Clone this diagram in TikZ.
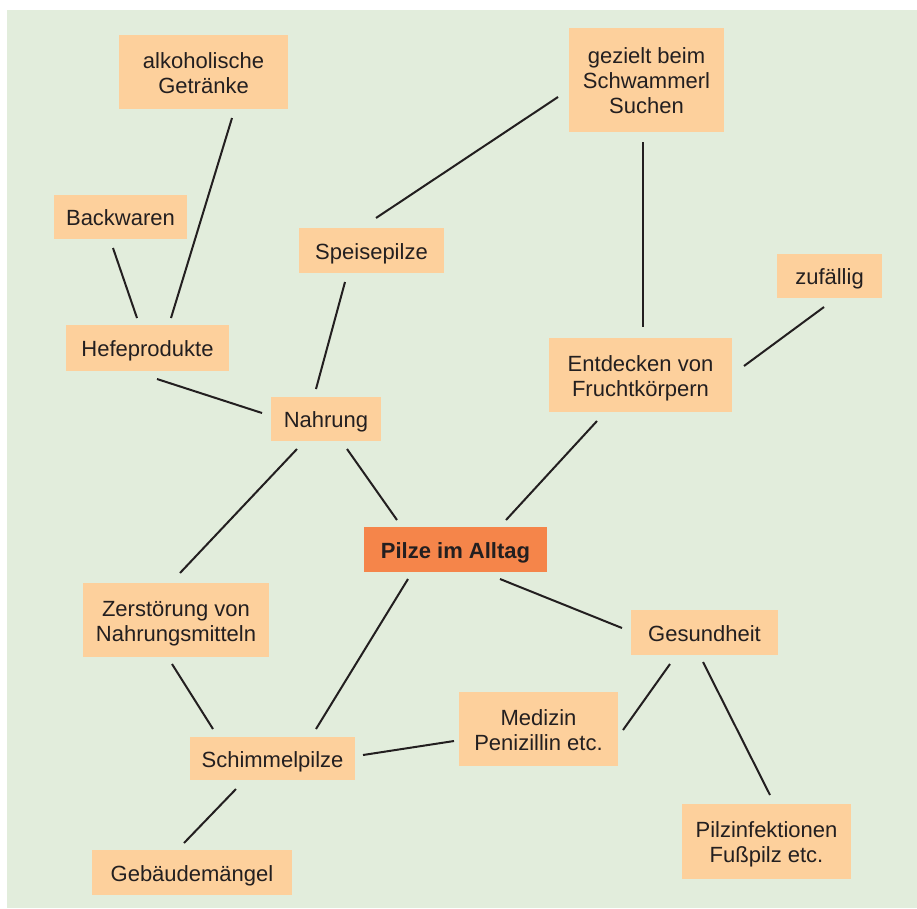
\documentclass[tikz,border=0pt]{standalone}
\usepackage{fontspec}
\setmainfont{Liberation Sans}
\definecolor{bggreen}{HTML}{E2EDDC}
\definecolor{peach}{HTML}{FDD09C}
\definecolor{orangec}{HTML}{F5854A}
\definecolor{txt}{HTML}{231F20}
\newcommand{\topstrut}{\rule{0pt}{22pt}}
\newcommand{\botstrut}{\rule[-5pt]{0pt}{5pt}}
\tikzset{
  mbox/.style={fill=peach, text=txt, align=center, inner sep=0pt, font=\fontsize{22}{25}\selectfont},
  box/.style={mbox,
    execute at begin node={\rule[-5pt]{0pt}{27pt}}},
  mainbox/.style={box, fill=orangec, font=\fontsize{22}{25}\selectfont\bfseries},
  conn/.style={draw=txt, line width=2pt}
}
\begin{document}
\begin{tikzpicture}[x=1pt,y=-1pt]
\useasboundingbox (0,0) rectangle (917,908);
\fill[white] (0,0) rectangle (917,908);
\fill[bggreen] (7,10) rectangle (917,908);

\node[mbox, minimum width=169, minimum height=74] (alk) at (203.5,72) {\topstrut alkoholische\\Getränke\botstrut};
\node[box, minimum width=133, minimum height=44] (back) at (120.5,217) {Backwaren};
\node[box, minimum width=163, minimum height=46] (hefe) at (147.5,348) {Hefeprodukte};
\node[box, minimum width=145, minimum height=45] (speise) at (371.5,250.5) {Speisepilze};
\node[mbox, minimum width=155, minimum height=104] (gezielt) at (646.5,80) {\topstrut gezielt beim\\Schwammerl\\Suchen\botstrut};
\node[box, minimum width=105, minimum height=44] (zuf) at (829.5,276) {zufällig};
\node[mbox, minimum width=183, minimum height=74] (entd) at (640.5,375) {\topstrut Entdecken von\\Fruchtkörpern\botstrut};
\node[box, minimum width=110, minimum height=44] (nahr) at (326,419) {Nahrung};
\node[mainbox, minimum width=183, minimum height=45] (pilze) at (455.5,549.5) {Pilze im Alltag};
\node[mbox, minimum width=186, minimum height=74] (zerst) at (176,620) {\topstrut Zerstörung von\\Nahrungsmitteln\botstrut};
\node[box, minimum width=147, minimum height=45] (ges) at (704.5,632.5) {Gesundheit};
\node[mbox, minimum width=159, minimum height=74] (med) at (538.5,729) {\topstrut Medizin\\Penizillin etc.\botstrut};
\node[box, minimum width=165, minimum height=43] (schim) at (272.5,758.5) {Schimmelpilze};
\node[box, minimum width=200, minimum height=45] (geb) at (192,872.5) {Gebäudemängel};
\node[mbox, minimum width=169, minimum height=75] (pinf) at (766.5,841.5) {\topstrut Pilzinfektionen\\Fußpilz etc.\botstrut};

\draw[conn] ([shift={(28.5,46)}]alk.center) -- ([shift={(23.5,-30)}]hefe.center);
\draw[conn] ([shift={(-7.5,31)}]back.center) -- ([shift={(-10.5,-30)}]hefe.center);
\draw[conn] ([shift={(9.5,31)}]hefe.center) -- ([shift={(-64,-6)}]nahr.center);
\draw[conn] ([shift={(4.5,-32.5)}]speise.center) -- ([shift={(-88.5,17)}]gezielt.center);
\draw[conn] ([shift={(-26.5,31.5)}]speise.center) -- ([shift={(-10,-30)}]nahr.center);
\draw[conn] ([shift={(-3.5,62)}]gezielt.center) -- ([shift={(2.5,-48)}]entd.center);
\draw[conn] ([shift={(-5.5,31)}]zuf.center) -- ([shift={(103.5,-9)}]entd.center);
\draw[conn] ([shift={(21,30)}]nahr.center) -- ([shift={(-58.5,-29.5)}]pilze.center);
\draw[conn] ([shift={(-43.5,46)}]entd.center) -- ([shift={(50.5,-29.5)}]pilze.center);
\draw[conn] ([shift={(-29,30)}]nahr.center) -- ([shift={(4,-47)}]zerst.center);
\draw[conn] ([shift={(44.5,29.5)}]pilze.center) -- ([shift={(-82.5,-4.5)}]ges.center);
\draw[conn] ([shift={(-47.5,29.5)}]pilze.center) -- ([shift={(43.5,-29.5)}]schim.center);
\draw[conn] ([shift={(-4,44)}]zerst.center) -- ([shift={(-59.5,-29.5)}]schim.center);
\draw[conn] ([shift={(-34.5,31.5)}]ges.center) -- ([shift={(84.5,1)}]med.center);
\draw[conn] ([shift={(-1.5,29.5)}]ges.center) -- ([shift={(3.5,-46.5)}]pinf.center);
\draw[conn] ([shift={(-84.5,12)}]med.center) -- ([shift={(90.5,-3.5)}]schim.center);
\draw[conn] ([shift={(-36.5,30.5)}]schim.center) -- ([shift={(-8,-29.5)}]geb.center);
\end{tikzpicture}
\end{document}
